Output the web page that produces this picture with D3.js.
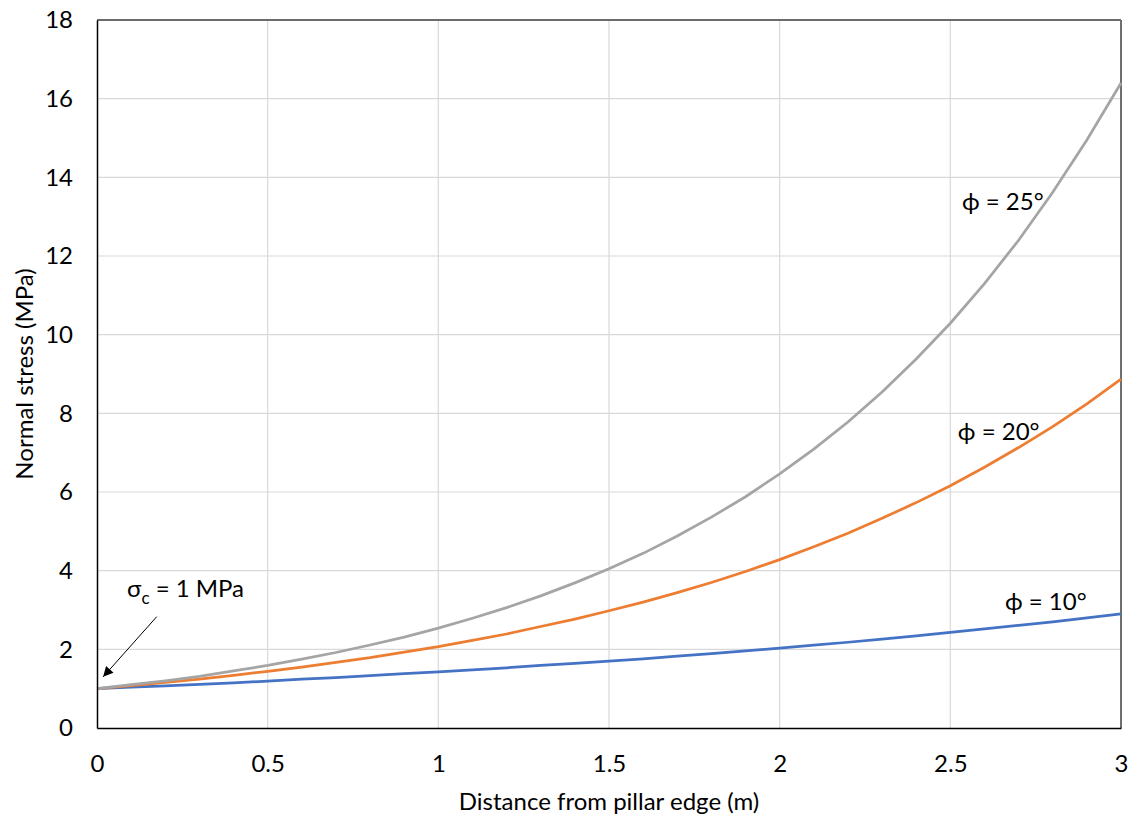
<!DOCTYPE html>
<html><head><meta charset="utf-8">
<script src="https://cdn.jsdelivr.net/npm/d3@7"></script>
<style>body{margin:0;background:#fff}text{font-family:Lato,"Open Sans",sans-serif;fill:#000}</style>
</head><body><svg id="c" width="1135" height="821"></svg>
<script>
const xs = [0,0.1,0.2,0.3,0.4,0.5,0.6,0.7,0.8,0.9,1.0,1.1,1.2,1.3,1.4,1.5,1.6,1.7,1.8,1.9,2.0,2.1,2.2,2.3,2.4,2.5,2.6,2.7,2.8,2.9,3.0];
const phi25 = [1.00,1.10,1.20,1.31,1.45,1.59,1.75,1.92,2.11,2.31,2.54,2.79,3.06,3.36,3.69,4.05,4.44,4.88,5.36,5.88,6.46,7.09,7.78,8.54,9.38,10.29,11.30,12.40,13.62,14.95,16.40];
const phi20 = [1.00,1.08,1.16,1.24,1.34,1.44,1.55,1.67,1.79,1.93,2.07,2.23,2.39,2.58,2.77,2.98,3.20,3.44,3.70,3.98,4.28,4.61,4.95,5.33,5.73,6.16,6.63,7.13,7.66,8.24,8.87];
const phi10 = [1.00,1.04,1.07,1.11,1.15,1.19,1.24,1.28,1.33,1.38,1.43,1.48,1.53,1.59,1.64,1.70,1.76,1.83,1.89,1.96,2.03,2.11,2.18,2.26,2.34,2.43,2.52,2.61,2.70,2.80,2.90];
const xTicks = [0,0.5,1,1.5,2,2.5,3];
const yTicks = [0,2,4,6,8,10,12,14,16,18];
const series = [
  {name:"ϕ = 10°", vals:phi10, color:"#4472C4", lx:2.66, ly:3.0},
  {name:"ϕ = 20°", vals:phi20, color:"#ED7D31", lx:2.522, ly:7.32},
  {name:"ϕ = 25°", vals:phi25, color:"#A5A5A5", lx:2.534, ly:13.17}
];

const svg = d3.select("#c");
const L=97, R=1121, T=20, B=728;
const x = d3.scaleLinear().domain([0,3]).range([L,R]);
const y = d3.scaleLinear().domain([0,18]).range([B,T]);

// gridlines
svg.append("g").selectAll("line").data(yTicks.slice(1)).join("line")
  .attr("x1",L).attr("x2",R).attr("y1",d=>y(d)).attr("y2",d=>y(d))
  .attr("stroke","#d9d9d9").attr("stroke-width",1.2);
svg.append("g").selectAll("line").data(xTicks.slice(1)).join("line")
  .attr("y1",T).attr("y2",B).attr("x1",d=>x(d)).attr("x2",d=>x(d))
  .attr("stroke","#d9d9d9").attr("stroke-width",1.2);

// border
svg.append("line").attr("x1",L).attr("x2",R).attr("y1",T).attr("y2",T).attr("stroke","#404040").attr("stroke-width",1.5);
svg.append("line").attr("x1",R).attr("x2",R).attr("y1",T).attr("y2",B).attr("stroke","#6f6f6f").attr("stroke-width",2);

// lines
const line = d3.line().x((d,i)=>x(xs[i])).y(d=>y(d));
series.forEach(s=>{
  svg.append("path").datum(s.vals).attr("d",line).attr("fill","none")
    .attr("stroke",s.color).attr("stroke-width",2.75);
});

// axes
const xa = svg.append("g").attr("transform",`translate(0,${B})`)
  .call(d3.axisBottom(x).tickValues(xTicks).tickSize(0).tickPadding(27).tickFormat(d3.format("")));
const ya = svg.append("g").attr("transform",`translate(${L},0)`)
  .call(d3.axisLeft(y).tickValues(yTicks).tickSize(0).tickPadding(24).tickFormat(d3.format("")));
[xa,ya].forEach(a=>{a.select(".domain").attr("stroke","#000").attr("stroke-width",1.5);
  a.selectAll("text").style("font-size","24px").attr("fill","#000").style("font-family","Lato,'Open Sans',sans-serif");});

// axis titles
svg.append("text").attr("x",(L+R)/2).attr("y",810).attr("text-anchor","middle")
  .style("font-size","24px").text("Distance from pillar edge (m)");
svg.append("text").attr("transform",`translate(33,${(T+B)/2}) rotate(-90)`).attr("text-anchor","middle")
  .style("font-size","24px").text("Normal stress (MPa)");

// series labels
series.forEach(s=>{
  svg.append("text").attr("x",x(s.lx)).attr("y",y(s.ly)).style("font-size","24px").text(s.name);
});

// sigma annotation
const ann = svg.append("text").attr("x",x(0.088)).attr("y",y(3.33)).style("font-size","24px");
ann.append("tspan").text("σ");
ann.append("tspan").attr("dy",7).style("font-size","17px").text("c");
ann.append("tspan").attr("dy",-7).text(" = 1 MPa");

svg.append("defs").append("marker").attr("id","ah").attr("viewBox","0 0 10 10").attr("refX",10).attr("refY",5)
  .attr("markerWidth",15).attr("markerHeight",10).attr("markerUnits","userSpaceOnUse").attr("orient","auto")
  .append("path").attr("d","M0,0 L10,5 L0,10 Z").attr("fill","#000");
svg.append("line").attr("x1",x(0.175)).attr("y1",y(2.83)).attr("x2",x(0.018)).attr("y2",y(1.3))
  .attr("stroke","#000").attr("stroke-width",1).attr("marker-end","url(#ah)");
</script></body></html>
